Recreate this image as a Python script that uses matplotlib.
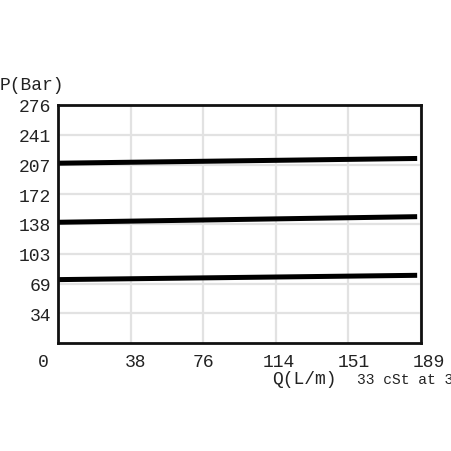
import matplotlib
matplotlib.use("Agg")
import matplotlib.pyplot as plt
from matplotlib.transforms import ScaledTranslation

# data
flow_ends = [0, 187]
line_top = [208.5, 214]
line_mid = [140, 146.5]
line_low = [73.5, 78.5]
x_max = 189
y_max = 276
x_ticks = [0, 37.8, 75.6, 113.4, 151.2, 189]
x_labels = ["0", "38", "76", "114", "151", "189"]
y_ticks = [34.5, 69, 103.5, 138, 172.5, 207, 241.5, 276]
y_labels = ["34", "69", "103", "138", "172", "207", "241", "276"]

font = "Liberation Mono"
tc = "#222222"
fig = plt.figure(figsize=(4.52, 4.52), dpi=100)
ax = fig.add_axes([58/452, 108/452, 363/452, 238/452])
ax.set_xlim(0, x_max)
ax.set_ylim(0, y_max)
ax.set_xticks(x_ticks)
ax.set_xticklabels(x_labels, fontfamily=font, fontsize=13, color=tc)
ax.set_yticks(y_ticks)
ax.set_yticklabels(y_labels, fontfamily=font, fontsize=13, color=tc)
ax.tick_params(length=0, pad=5)
ax.tick_params(axis='x', pad=7)
ax.grid(True, color="#e2e2e2", linewidth=1.6)
ax.set_axisbelow(True)
for s in ax.spines.values():
    s.set_linewidth(2)
    s.set_color("#111111")

offsets = [-15, 5, 0, 3, 5, 8]
for lab, dx in zip(ax.get_xticklabels(), offsets):
    lab.set_transform(lab.get_transform() + ScaledTranslation(dx/100, 0, fig.dpi_scale_trans))

for ys in (line_top, line_mid, line_low):
    ax.plot(flow_ends, ys, color="black", linewidth=3.6, solid_capstyle="butt")

fig.text(0/452, 1 - 85/452, "P(Bar)", fontfamily=font, fontsize=13, color=tc, ha="left", va="center")
fig.text(304/452, 1 - 380/452, "Q(L/m)", fontfamily=font, fontsize=13, color=tc, ha="center", va="center")
fig.text(357/452, 1 - 380/452, "33 cSt at 3", fontfamily=font, fontsize=10.5, color=tc, ha="left", va="center")

fig.savefig("out.png", dpi=100)
